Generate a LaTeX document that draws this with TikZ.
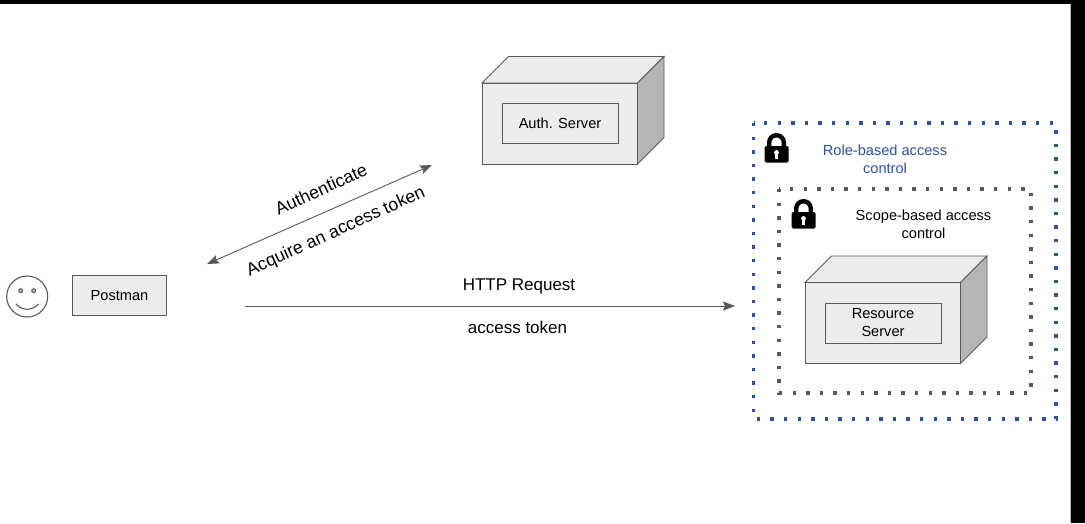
\documentclass[tikz,border=0pt]{standalone}
\usepackage{fontspec}
\setmainfont{Liberation Sans}
\usetikzlibrary{arrows.meta}
\definecolor{boxfill}{HTML}{ECEBEE}
\definecolor{boxside}{HTML}{B5B4B7}
\definecolor{boxline}{HTML}{595959}
\definecolor{roleblue}{HTML}{2F4FA8}
\definecolor{frameblack}{HTML}{000000}
\tikzset{
  boxstyle/.style = {draw=boxline, line width=0.9pt, fill=boxfill},
  sidestyle/.style = {draw=boxline, line width=0.9pt, fill=boxside},
  panelbox/.style = {boxstyle, inner sep=0pt, align=center, font=\fontsize{14.6}{18}\selectfont},
  flowline/.style = {draw=boxline, line width=0.9pt, -{Stealth[length=12pt,width=9pt,inset=2pt]}},
  flowtext/.style = {font=\fontsize{17}{20}\selectfont, inner sep=0pt},
  slanttext/.style = {font=\fontsize{17.8}{20}\selectfont, inner sep=0pt, rotate=24.5},
  areatext/.style = {font=\fontsize{14.6}{18}\selectfont, align=center, inner sep=0pt},
  dotframe/.style = {line width=3.4pt, dash pattern=on 3.4pt off 10.2pt},
  lockpic/.pic = {
    \draw[black, line width=4.4pt] (-7.3,2) -- (-7.3,-3.5) arc (180:360:7.3) -- (7.3,2);
    \fill[black, rounded corners=1.5pt] (-12,0) rectangle (12,16.5);
    \fill[white] (0,6.5) circle (2.4);
    \fill[white] (-1.3,7) rectangle (1.3,12.5);
  }
}
\begin{document}
\begin{tikzpicture}[x=1pt, y=-1pt]
\useasboundingbox (0,0) rectangle (1085,523);
\pgfmathsetmacro{\w}{155.5} % box front
\pgfmathsetmacro{\h}{81}
\pgfmathsetmacro{\d}{26.5} % box depth
\fill[frameblack] (0,0) rectangle (1085,4);
\fill[frameblack] (1071,0) rectangle (1085,523);
\draw[boxside, line width=0.8pt] (1070.5,4) -- (1070.5,523);

% outer areas
\draw[roleblue, dotframe] (753.5,123) rectangle (1056,419);
\draw[boxline, dotframe] (779,189) rectangle (1031,393);

% the two servers
\foreach \x/\y in {482/83, 805/282.5} {
  \draw[boxstyle] (\x,\y) -- ++(\d,-\d) -- ++(\w,0) -- ++(-\d,\d) -- cycle;
  \draw[sidestyle] (\x+\w,\y) -- ++(\d,-\d) -- ++(0,\h) -- ++(-\d,\d) -- cycle;
  \draw[boxstyle] (\x,\y) rectangle ++(\w,\h);
}
\node[panelbox, minimum width=116pt, minimum height=40pt] (auth) at (560,123) {Auth. Server};
\node[panelbox, minimum width=116pt, minimum height=40pt] (resource) at (883,323) {Resource\\Server};

% client
\draw[boxline, line width=1.1pt] (27.2,296.5) circle (20.5);
\draw[boxline, line width=0.9pt, fill=boxside] (20.7,290.7) circle (2);
\draw[boxline, line width=0.9pt, fill=boxside] (33.7,290.7) circle (2);
\draw[boxline, line width=1.1pt] (16,304) .. controls (22,311) and (32,311) .. (38.5,304);
\node[panelbox, minimum width=94.5pt, minimum height=40.5pt] (postman) at (119.5,295.5) {Postman};

% connectors
\coordinate (authnear) at (432,165);
\coordinate (clientnear) at (207,264);
\coordinate (reqstart) at (245,306);
\coordinate (reqend) at (735,306);
\draw[flowline, {Stealth[length=12pt,width=9pt,inset=2pt]}-{Stealth[length=12pt,width=9pt,inset=2pt]}] (clientnear) -- (authnear);
\draw[flowline] (reqstart) -- (reqend);
\node[slanttext] (authenticate) at (321,189) {Authenticate};
\node[slanttext] (acquire) at (336,232) {Acquire an access token};
\node[flowtext] (request) at (519,286) {HTTP Request};
\node[flowtext] (token) at (517.5,327.5) {access token};

% area labels
\node[areatext, text=roleblue] (rolelabel) at (885,159) {Role-based access\\control};
\node[areatext] (scopelabel) at (923.5,224.5) {Scope-based access\\control};
\pic at (776.5,146) {lockpic};
\pic at (803.5,212) {lockpic};
\end{tikzpicture}
\end{document}
